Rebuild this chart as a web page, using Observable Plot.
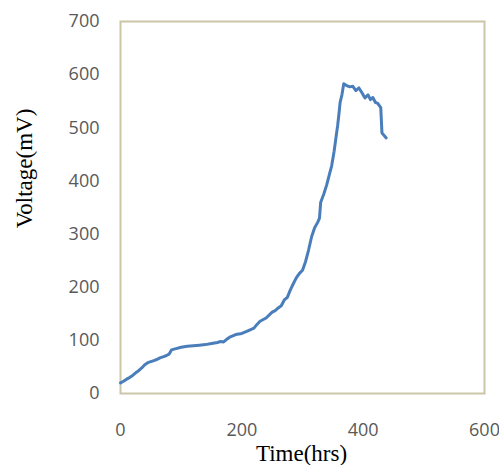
<!DOCTYPE html>
<html>
<head>
<meta charset="utf-8">
<script src="https://cdn.jsdelivr.net/npm/d3@7"></script>
<script src="https://cdn.jsdelivr.net/npm/@observablehq/plot@0.6"></script>
<style>
  html, body { margin: 0; padding: 0; background: #fff; }
  #chart { width: 499px; height: 465px; }
</style>
</head>
<body>
<div id="chart"></div>
<script>
const timeHrs = [0,5,10,15,20,25,30,35,40,45,50,55,60,65,70,75,80,84,90,100,110,120,130,140,150,160,165,170,175,180,190,200,210,220,225,230,240,250,255,260,265,270,275,280,285,290,295,300,305,310,315,320,325,328,330,335,340,345,348,352,355,358,360,362,365,368,372,378,383,388,393,398,403,408,412,416,420,424,429,431,438];
const voltageMv = [20,23,27,30,34,39,43,48,54,58,60,62,64,67,69,71,74,82,84,87,89,90,91,92,94,96,98,97,102,106,111,113,118,123,130,136,142,153,156,161,165,176,181,195,207,218,226,232,248,270,295,312,322,330,360,375,393,415,428,455,480,505,525,548,562,583,580,577,578,570,575,566,556,562,553,557,548,546,538,490,481];
const xTicks = [0, 200, 400, 600];
const yTicks = [0, 100, 200, 300, 400, 500, 600, 700];
const xTitle = "Time(hrs)";
const yTitle = "Voltage(mV)";

const data = timeHrs.map((t, i) => ({t, v: voltageMv[i]}));

const tickFont = "'Open Sans', 'Liberation Sans', sans-serif";
const titleFont = "'Liberation Serif', 'DejaVu Serif', serif";

const chart = Plot.plot({
  width: 499,
  height: 465,
  marginLeft: 120,
  marginRight: 15,
  marginTop: 21,
  marginBottom: 72,
  style: {background: "#fff", fontFamily: tickFont},
  x: {domain: [0, 600]},
  y: {domain: [0, 700]},
  marks: [
    Plot.frame({stroke: "#cbc6a8", strokeWidth: 2}),
    Plot.line(data, {x: "t", y: "v", stroke: "#4a7ebb", strokeWidth: 3, strokeLinejoin: "round", strokeLinecap: "round"}),
    Plot.axisX({ticks: xTicks, tickSize: 0, tickPadding: 30, label: null, fontSize: 18, fill: "#595959"}),
    Plot.axisY({ticks: yTicks, tickSize: 0, tickPadding: 21, label: null, fontSize: 18, fill: "#595959"}),
    Plot.text([yTitle], {text: d => d, frameAnchor: "left", textAnchor: "middle", lineAnchor: "middle", rotate: -90, dx: -96, dy: -39, fontSize: 23, fontFamily: titleFont, fill: "#000"}),
    Plot.text([xTitle], {text: d => d, frameAnchor: "bottom", textAnchor: "middle", lineAnchor: "middle", dx: -1, dy: 60, fontSize: 23, fontFamily: titleFont, fill: "#000"})
  ]
});
document.getElementById("chart").appendChild(chart);
</script>
</body>
</html>
